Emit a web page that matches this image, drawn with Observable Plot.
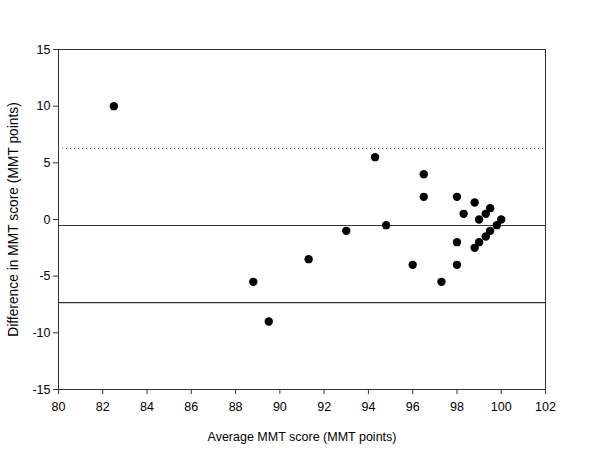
<!DOCTYPE html>
<html>
<head>
<meta charset="utf-8">
<script src="https://cdn.jsdelivr.net/npm/d3@7"></script>
<script src="https://cdn.jsdelivr.net/npm/@observablehq/plot@0.6"></script>
<style>
  html, body { margin: 0; padding: 0; background: #fff; }
  g[aria-label="y-axis label"] text { font-size: 13.8px; }
</style>
</head>
<body>
<div id="chart"></div>
<script>
// Bland-Altman data
const avgScore = [82.5, 88.8, 89.5, 91.3, 93.0, 94.3, 94.8, 96.0, 96.5, 96.5, 97.3,
                  98.0, 98.0, 98.0, 98.3, 98.8, 98.8, 99.0, 99.0, 99.3, 99.3,
                  99.5, 99.5, 99.8, 100.0];
const diffScore = [10, -5.5, -9, -3.5, -1, 5.5, -0.5, -4, 4, 2, -5.5,
                   2, -2, -4, 0.5, 1.5, -2.5, 0, -2, 0.5, -1.5,
                   1, -1, -0.5, 0];
const meanDiff = -0.53;
const upperLimit = 6.26;
const lowerLimit = -7.33;
const xTicks = [80, 82, 84, 86, 88, 90, 92, 94, 96, 98, 100, 102];
const yTicks = [-15, -10, -5, 0, 5, 10, 15];

const data = avgScore.map((x, i) => ({x, y: diffScore[i]}));

const chart = Plot.plot({
  width: 600,
  height: 452,
  marginLeft: 58,
  marginRight: 55,
  marginTop: 49,
  marginBottom: 63,
  style: {fontFamily: "'Liberation Sans', Arial, sans-serif", fontSize: "12.5px", color: "#000", background: "#fff"},
  x: {domain: [80, 102]},
  y: {domain: [-15, 15]},
  marks: [
    Plot.ruleY([upperLimit], {stroke: "#666", strokeWidth: 1, strokeDasharray: "1,3"}),
    Plot.ruleY([meanDiff], {stroke: "#333", strokeWidth: 1.2}),
    Plot.ruleY([lowerLimit], {stroke: "#333", strokeWidth: 1.2}),
    Plot.frame({stroke: "#333", strokeWidth: 1}),
    Plot.axisX({ticks: xTicks, tickSize: 5, tickPadding: 8, tickFormat: d => String(d),
      label: "Average MMT score (MMT points)", labelAnchor: "center", labelArrow: "none", labelOffset: 51, stroke: "#333"}),
    Plot.axisY({ticks: yTicks, tickSize: 5, tickPadding: 3, tickFormat: d => String(d),
      label: "Difference in MMT score (MMT points)", labelAnchor: "center", labelArrow: "none", labelOffset: 50, stroke: "#333"}),
    Plot.dot(data, {x: "x", y: "y", r: 4.2, fill: "#000", stroke: "none"})
  ]
});
document.getElementById("chart").appendChild(chart);
</script>
</body>
</html>
